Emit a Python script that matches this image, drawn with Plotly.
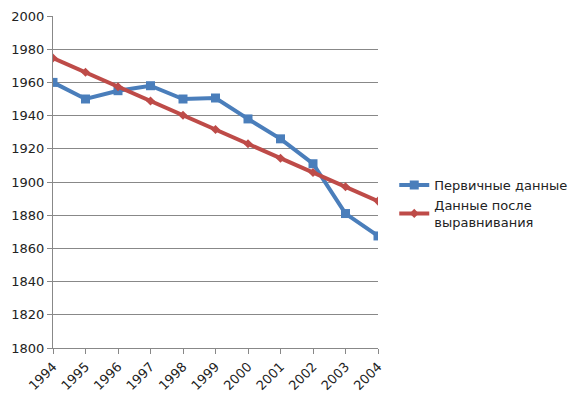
import plotly.graph_objects as go

years = [1994, 1995, 1996, 1997, 1998, 1999, 2000, 2001, 2002, 2003, 2004]
primary = [1960, 1950, 1955, 1958, 1950, 1950.6, 1938, 1926, 1911, 1881, 1867.5]
smoothed = [1974.7, 1966.1, 1957.4, 1948.8, 1940.2, 1931.6, 1923.0, 1914.3, 1905.7, 1897.1, 1888.5]
y_ticks = [1800, 1820, 1840, 1860, 1880, 1900, 1920, 1940, 1960, 1980, 2000]

fig = go.Figure()
fig.add_trace(go.Scatter(
    x=years, y=primary, mode="lines+markers", name="Первичные данные",
    line=dict(color="#4a7ebb", width=4),
    marker=dict(symbol="square", size=9, color="#4a7ebb"),
))
fig.add_trace(go.Scatter(
    x=years, y=smoothed, mode="lines+markers", name="Данные после<br>выравнивания",
    line=dict(color="#be4b48", width=4),
    marker=dict(symbol="diamond", size=7, color="#be4b48"),
))

fig.update_layout(
    width=576, height=399,
    margin=dict(l=53, r=198, t=16, b=51, autoexpand=False),
    paper_bgcolor="white", plot_bgcolor="white",
    font=dict(family="DejaVu Sans", size=13, color="#222"),
    showlegend=True,
    legend=dict(x=1.05, y=0.435, xanchor="left", yanchor="middle",
                font=dict(size=13, color="#222"), tracegroupgap=2,
                itemwidth=30),
    xaxis=dict(
        range=[1994, 2004], tickvals=years, ticktext=[str(y) for y in years],
        tickangle=-45, automargin=False,
        showgrid=False, showline=True, linecolor="#888", linewidth=1,
        ticks="outside", ticklen=5, tickcolor="#888", zeroline=False,
    ),
    yaxis=dict(
        range=[1800, 2000], tickvals=y_ticks, automargin=False,
        showgrid=True, gridcolor="#888", gridwidth=1,
        showline=True, linecolor="#888", linewidth=1,
        ticks="outside", ticklen=5, tickcolor="#888",
        zeroline=False,
    ),
)

fig.write_html(
    "out.html",
    config={"responsive": False, "displayModeBar": False},
    post_script="document.body.style.margin='0';document.body.style.overflow='hidden';",
)
